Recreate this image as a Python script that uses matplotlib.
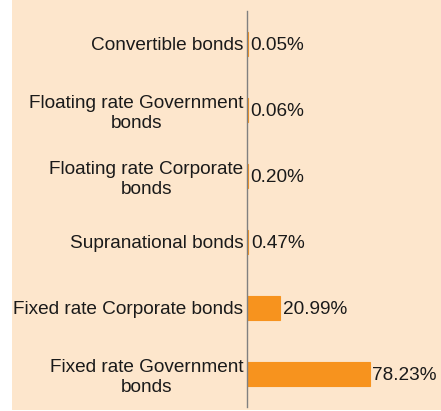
import matplotlib
matplotlib.use("Agg")
import matplotlib.pyplot as plt
from matplotlib.patches import Rectangle

categories = ["Convertible bonds", "Floating rate Government\nbonds",
              "Floating rate Corporate\nbonds", "Supranational bonds",
              "Fixed rate Corporate bonds", "Fixed rate Government\nbonds"]
values = [0.05, 0.06, 0.20, 0.47, 20.99, 78.23]
value_labels = ["0.05%", "0.06%", "0.20%", "0.47%", "20.99%", "78.23%"]

plt.rcParams['font.family'] = ['Liberation Sans', 'DejaVu Sans']

W, H = 441, 411
fig = plt.figure(figsize=(W / 100, H / 100), dpi=100)
fig.patch.set_facecolor('white')
fig.patches.append(Rectangle((12 / W, 1 / H), (W - 12) / W, (H - 1) / H,
                             transform=fig.transFigure, facecolor='#FDE6CC',
                             edgecolor='none', zorder=-1))

ax_left = 247.5 / W
ax_bottom = (H - 407) / H
ax_top = (H - 11) / H
ax = fig.add_axes([ax_left, ax_bottom, 1 - ax_left, ax_top - ax_bottom])
ax.set_facecolor('none')

ypos = list(range(len(categories)))
ax.barh(ypos, values, height=0.36, color='#F7931E', edgecolor='#F7931E',
        linewidth=0.8, zorder=2)
ax.set_ylim(len(categories) - 0.5, -0.5)
ax.set_xlim(0, (W - 247.5) / 1.56)

ax.set_yticks(ypos)
ax.set_yticklabels(categories, fontsize=13.7, color='#1a1a1a', multialignment='center')
ax.tick_params(axis='y', length=0, pad=3)
ax.set_xticks([])

for s in ['top', 'right', 'bottom']:
    ax.spines[s].set_visible(False)
ax.spines['left'].set_color('#808080')
ax.spines['left'].set_linewidth(1.0)
ax.spines['left'].set_zorder(3)

for y, v, lab in zip(ypos, values, value_labels):
    ax.annotate(lab, (v, y), xytext=(2, 0), textcoords='offset points',
                ha='left', va='center_baseline', fontsize=13.7, color='#1a1a1a',
                annotation_clip=False)

fig.savefig("out.png", dpi=100)
